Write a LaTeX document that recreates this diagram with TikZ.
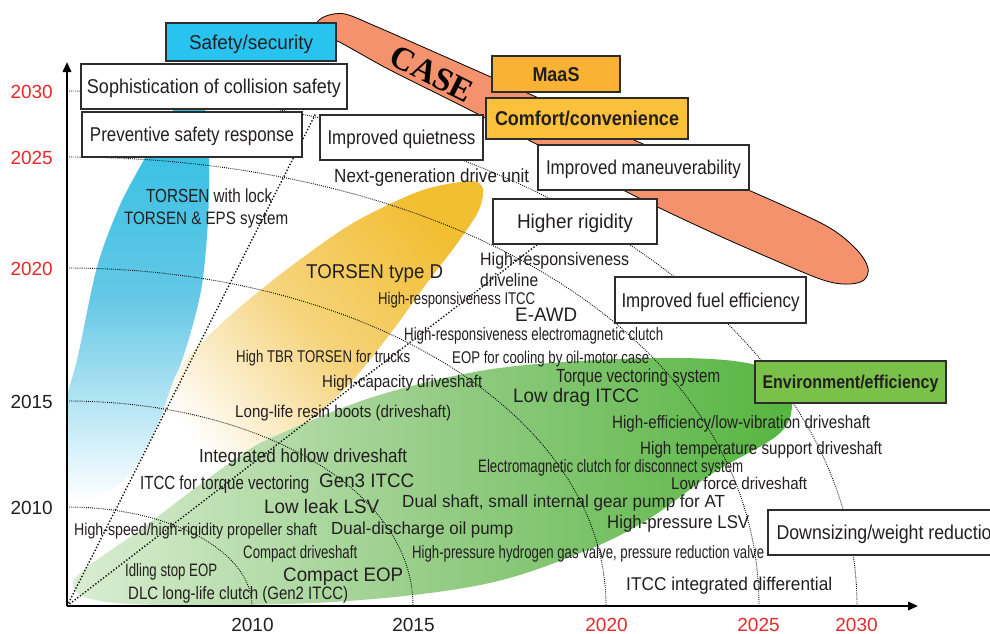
\documentclass[tikz,border=0pt]{standalone}
\usepackage{fontspec}
\setmainfont{Liberation Sans}
\newfontfamily\casefont{Liberation Serif}
\usepackage{graphicx}
\usetikzlibrary{arrows.meta}
\definecolor{txt}{RGB}{35,31,32}
\definecolor{yr}{RGB}{232,40,42}
\definecolor{bord}{RGB}{45,45,45}
\definecolor{cyanbox}{RGB}{40,195,238}
\definecolor{maasc}{RGB}{249,178,51}
\definecolor{comfc}{RGB}{252,193,58}
\definecolor{envc}{RGB}{122,193,74}
\definecolor{casec}{RGB}{244,146,110}
\definecolor{blueA}{RGB}{40,190,228}
\definecolor{blueB}{RGB}{100,200,230}
\definecolor{yelA}{RGB}{242,190,50}
\definecolor{yelB}{RGB}{245,212,125}
\definecolor{grA}{RGB}{218,237,210}
\definecolor{grB}{RGB}{150,205,135}
\definecolor{grC}{RGB}{86,181,64}
\definecolor{dotc}{RGB}{10,10,10}
\newcommand{\fw}[2]{\resizebox{#1pt}{\height}{#2}}
\begin{document}
\begin{tikzpicture}[x=1pt,y=-1pt,
  lab/.style={anchor=base west, inner sep=0pt, text=txt, font=\fontsize{#1}{#1}\selectfont},
  box/.style={draw=bord, line width=1.1pt, fill=white, inner sep=0pt, text=txt,
              text height=14.3pt, text depth=0pt, font=\fontsize{20}{20}\selectfont},
  yrlab/.style={inner sep=0pt, font=\fontsize{19}{19}\selectfont},
  arcline/.style={draw=dotc, line width=0.9pt, dash pattern=on 0.9pt off 1.2pt},
  diagline/.style={draw=dotc, line width=1.35pt, dash pattern=on 1.35pt off 1.9pt},
  axisline/.style={draw=black, line width=2.1pt, -{Triangle[length=10pt,width=8.5pt]}},
]
\useasboundingbox (0,0) rectangle (990,633);
\fill[white] (0,0) rectangle (990,633);

% ---------- blue blob (safety/security)
\begin{scope}
  \clip (68,0) rectangle (990,633);
  \shade[top color=blueA, bottom color=white, middle color=blueB]
    plot[smooth cycle] coordinates {(190,93) (204,106) (209,150) (208,220) (202,285) (190,335)
      (175,380) (155,430) (125,480) (80,500) (55,470) (60,420) (77,360) (97,267) (120,205)
      (145,158) (170,115)};
\end{scope}

% ---------- yellow blob (comfort/convenience)
\shade[top color=yelA, bottom color=white, middle color=yelB, shading angle=-50]
  plot[smooth cycle] coordinates {(470,181) (483,189) (478,212) (456,245) (427,283) (393,330)
    (353,380) (313,418) (270,452) (225,480) (175,490) (150,470) (163,413) (177,373) (198,346)
    (240,307) (290,267) (353,223) (420,191)};

% ---------- green blob (environment/efficiency)
\shade[left color=grA, right color=grC, middle color=grB]
  plot[smooth cycle, tension=0.6] coordinates {(73,586) (86,568) (140,530) (190,492) (240,456)
    (273,437) (373,397) (480,371) (580,361) (680,358) (747,363) (780,377) (792,398) (780,433)
    (713,473) (647,520) (580,553) (480,585) (333,602) (167,605) (95,600)};

% ---------- CASE blob
\filldraw[fill=casec, draw=black, line width=0.8pt]
  plot[smooth cycle, tension=0.55] coordinates {(316,24) (326,16) (345,14) (375,26) (423,47)
    (500,81) (600,125) (700,169) (780,204) (830,228) (857,250) (868,268) (864,280) (850,284)
    (830,282) (800,271) (713,233) (627,192) (540,146) (460,105) (390,70) (345,45) (322,33)};
\node[rotate=-26.6, inner sep=0pt, text=black, font={\casefont\bfseries\fontsize{33}{33}\selectfont}] (case) at (432,74) {CASE};

% ---------- grid arcs and diagonals
\coordinate (O) at (67,606);
\coordinate (ytop) at (67,62);
\coordinate (xend) at (918,606);
\coordinate (d1) at (316,113);
\coordinate (d2) at (538,244);
\draw[arcline] (67,507) .. controls (169,507) and (252,551) .. (252,606);
\draw[arcline] (67,401) .. controls (258,401) and (413,490) .. (413,606);
\draw[arcline] (67,268) .. controls (365,268) and (606,415) .. (606,606);
\draw[arcline] (67,157) .. controls (449,157) and (759,337) .. (759,606);
\draw[arcline] (67,91) .. controls (503,91) and (857,322) .. (857,606);
\draw[diagline] (O) -- (d1);
\draw[diagline] (O) -- (d2);

% ---------- axes
\draw[axisline] (O) -- (ytop);
\draw[axisline] (O) -- (xend);

% ---------- year labels
\node[yrlab, anchor=base east, text=yr] (y2030) at (53,98) {2030};
\node[yrlab, anchor=base east, text=yr] (y2025) at (53,164) {2025};
\node[yrlab, anchor=base east, text=yr] (y2020) at (53,275) {2020};
\node[yrlab, anchor=base east, text=txt] (y2015) at (53,408) {2015};
\node[yrlab, anchor=base east, text=txt] (y2010) at (53,514) {2010};
\node[yrlab, anchor=base, text=txt] (x2010) at (252.5,631) {2010};
\node[yrlab, anchor=base, text=txt] (x2015) at (413.5,631) {2015};
\node[yrlab, anchor=base, text=yr] (x2020) at (606.5,631) {2020};
\node[yrlab, anchor=base, text=yr] (x2025) at (758.5,631) {2025};
\node[yrlab, anchor=base, text=yr] (x2030) at (856.5,631) {2030};

% ---------- boxes
\node[box, fill=cyanbox, minimum width=170pt, minimum height=38pt] (safety) at (251,42) {\fw{124}{Safety/security}};
\node[box, minimum width=266pt, minimum height=45pt] (soph) at (214,86.5) {\fw{254}{Sophistication of collision safety}};
\node[box, minimum width=220pt, minimum height=45pt] (prev) at (192,134.5) {\fw{204}{Preventive safety response}};
\node[box, minimum width=163pt, minimum height=45pt] (quiet) at (401.5,137.5) {\fw{148}{Improved quietness}};
\node[box, fill=maasc, minimum width=128pt, minimum height=36pt, font=\fontsize{20}{20}\selectfont\bfseries] (maas) at (556,74) {\fw{47}{MaaS}};
\node[box, fill=comfc, minimum width=202pt, minimum height=41pt, font=\fontsize{20}{20}\selectfont\bfseries] (comfort) at (587,118.5) {\fw{184}{Comfort/convenience}};
\node[box, minimum width=211pt, minimum height=45pt] (maneuv) at (643.5,167.5) {\fw{195}{Improved maneuverability}};
\node[box, minimum width=164pt, minimum height=45pt] (rigid) at (575,221.5) {\fw{116}{Higher rigidity}};
\node[box, minimum width=191pt, minimum height=46pt] (fuel) at (710.5,300) {\fw{178}{Improved fuel efficiency}};
\node[box, fill=envc, minimum width=191pt, minimum height=42pt, text height=13.3pt, font=\fontsize{18.5}{18.5}\selectfont\bfseries] (env) at (850.5,382) {\fw{176}{Environment/efficiency}};
\node[box, minimum width=242pt, minimum height=45pt] (down) at (889,532.5) {\fw{225}{Downsizing/weight reduction}};

% ---------- free labels
\node[lab=19] (tlock) at (146,202) {\fw{126}{TORSEN with lock}};
\node[lab=18] (teps) at (124,224) {\fw{164}{TORSEN \& EPS system}};
\node[lab=19] (nextgen) at (334,182) {\fw{195}{Next-generation drive unit}};
\node[lab=20] (typed) at (306,278) {\fw{137}{TORSEN type D}};
\node[lab=18] (hrd1) at (480,265) {\fw{149}{High-responsiveness}};
\node[lab=18] (hrd2) at (480,286) {\fw{58}{driveline}};
\node[lab=17] (hritcc) at (378,304) {\fw{157}{High-responsiveness ITCC}};
\node[lab=19.5] (eawd) at (515,321) {\fw{62}{E-AWD}};
\node[lab=18] (hremc) at (404,340) {\fw{259}{High-responsiveness electromagnetic clutch}};
\node[lab=17] (eopc) at (452,363) {\fw{197}{EOP for cooling by oil-motor case}};
\node[lab=17] (tbr) at (236,362) {\fw{174}{High TBR TORSEN for trucks}};
\node[lab=17] (hcap) at (322,387) {\fw{160}{High-capacity driveshaft}};
\node[lab=19] (tvs) at (556,382) {\fw{164}{Torque vectoring system}};
\node[lab=19.5] (ldrag) at (513,402) {\fw{126}{Low drag ITCC}};
\node[lab=17] (boots) at (235,417) {\fw{216}{Long-life resin boots (driveshaft)}};
\node[lab=18] (hevib) at (612,428) {\fw{258}{High-efficiency/low-vibration driveshaft}};
\node[lab=18] (htemp) at (640,454) {\fw{242}{High temperature support driveshaft}};
\node[lab=19] (hollow) at (199,462) {\fw{208}{Integrated hollow driveshaft}};
\node[lab=18] (emc) at (478,472) {\fw{265}{Electromagnetic clutch for disconnect system}};
\node[lab=19] (itcctv) at (140,489) {\fw{169}{ITCC for torque vectoring}};
\node[lab=19.5] (gen3) at (319,487) {\fw{95}{Gen3 ITCC}};
\node[lab=17] (lforce) at (671,489) {\fw{136}{Low force driveshaft}};
\node[lab=17.5] (dual) at (402,507) {\fw{323}{Dual shaft, small internal gear pump for AT}};
\node[lab=19.5] (lleak) at (264,513) {\fw{115}{Low leak LSV}};
\node[lab=18.5] (hplsv) at (607,528) {\fw{142}{High-pressure LSV}};
\node[lab=17] (prop) at (74,535) {\fw{243}{High-speed/high-rigidity propeller shaft}};
\node[lab=17.5] (ddis) at (331,534) {\fw{182}{Dual-discharge oil pump}};
\node[lab=18] (cds) at (243,558) {\fw{114}{Compact driveshaft}};
\node[lab=18] (h2) at (412,558) {\fw{352}{High-pressure hydrogen gas valve, pressure reduction valve}};
\node[lab=18] (isop) at (125,576) {\fw{92}{Idling stop EOP}};
\node[lab=19.5] (ceop) at (283,581) {\fw{120}{Compact EOP}};
\node[lab=18] (dlc) at (128,599) {\fw{220}{DLC long-life clutch (Gen2 ITCC)}};
\node[lab=18.5] (itccid) at (626,590) {\fw{206}{ITCC integrated differential}};
\end{tikzpicture}
\end{document}
